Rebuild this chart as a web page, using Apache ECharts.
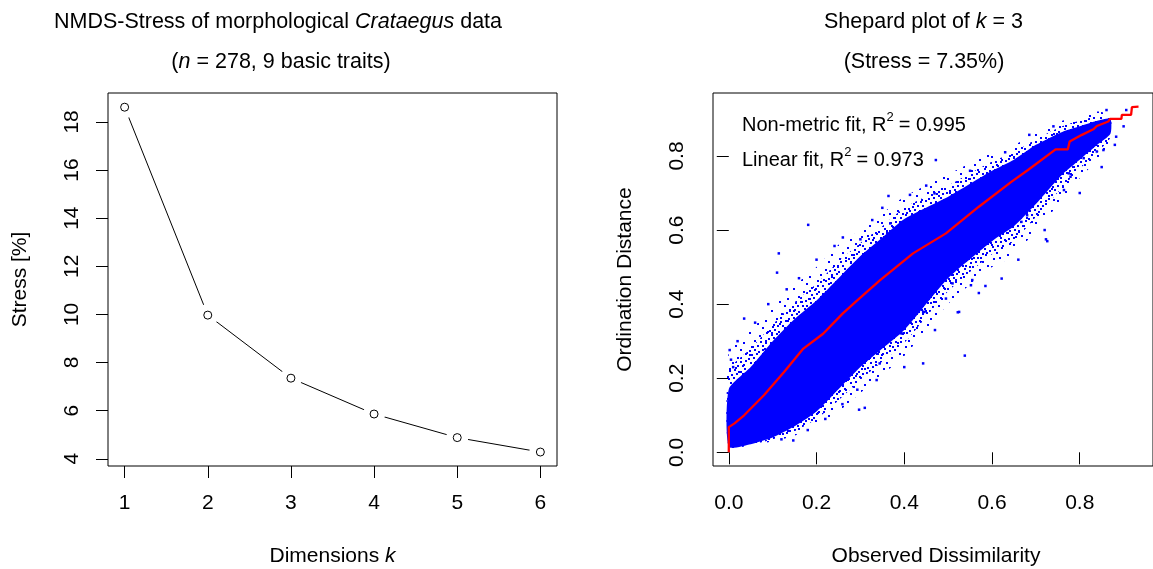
<!DOCTYPE html>
<html>
<head>
<meta charset="utf-8">
<script src="https://cdn.jsdelivr.net/npm/echarts@6/dist/echarts.min.js"></script>
<style>
html,body{margin:0;padding:0;background:#fff;}
#chart{width:1153px;height:569px;}
</style>
</head>
<body>
<div id="chart"></div>
<script>
// ---------- Left panel: NMDS stress vs dimensions ----------
const dims = [1, 2, 3, 4, 5, 6];
const stress = [18.61, 9.97, 7.35, 5.86, 4.88, 4.28];
const leftYTicks = [4, 6, 8, 10, 12, 14, 16, 18];

// ---------- Right panel: Shepard plot ----------
const shepTicks = [0, 0.2, 0.4, 0.6, 0.8];
// non-metric (isotonic) fit line
const fitX = [0, 0, 0.013, 0.035, 0.08, 0.126, 0.17, 0.215, 0.26, 0.289, 0.345, 0.42, 0.495, 0.57, 0.644, 0.682, 0.745, 0.773, 0.777, 0.805, 0.831, 0.839, 0.865, 0.869, 0.895, 0.896, 0.917, 0.919, 0.934];
const fitY = [0, 0.068, 0.078, 0.10, 0.154, 0.217, 0.28, 0.32, 0.375, 0.406, 0.465, 0.537, 0.591, 0.663, 0.73, 0.762, 0.818, 0.818, 0.839, 0.857, 0.872, 0.881, 0.893, 0.9, 0.9, 0.911, 0.911, 0.932, 0.933];
// envelopes of the point cloud: dense core, medium band, sparse fringe
const bandX    = [0,     0.05,  0.1,   0.15,  0.2,   0.25,  0.3,   0.35,  0.4,   0.5,   0.6,   0.65,  0.7,   0.76,  0.8,   0.84,  0.87];
const coreLo   = [0.015, 0.022, 0.04,  0.07,  0.11,  0.17,  0.23,  0.28,  0.33,  0.47,  0.57,  0.61,  0.67,  0.75,  0.79,  0.83,  0.86];
const coreHi   = [0.17,  0.23,  0.30,  0.36,  0.41,  0.47,  0.53,  0.58,  0.63,  0.69,  0.76,  0.79,  0.83,  0.865, 0.88,  0.895, 0.90];
const midLo    = [0.013, 0.02,  0.035, 0.057, 0.09,  0.14,  0.195, 0.245, 0.295, 0.435, 0.535, 0.57,  0.635, 0.715, 0.765, 0.81,  0.85];
const midHi    = [0.22,  0.28,  0.345, 0.405, 0.455, 0.515, 0.565, 0.61,  0.66,  0.72,  0.785, 0.81,  0.845, 0.88,  0.895, 0.907, 0.905];
const fringeLo = [0.012, 0.018, 0.03,  0.045, 0.07,  0.11,  0.16,  0.21,  0.26,  0.40,  0.50,  0.53,  0.60,  0.68,  0.74,  0.79,  0.84];
const fringeHi = [0.27,  0.33,  0.39,  0.45,  0.50,  0.56,  0.60,  0.645, 0.69,  0.75,  0.81,  0.83,  0.86,  0.895, 0.91,  0.92,  0.91];
// isolated points
const outliers = [
  [0.259,0.13],[0.31,0.12],[0.443,0.24],[0.538,0.261],[0.522,0.378],[0.392,0.322],[0.344,0.24],[0.337,0.195],
  [0.147,0.032],[0.035,0.361],[0.02,0.30],[0.51,0.456],[0.585,0.449],[0.552,0.451],[0.114,0.537],[0.181,0.614],
  [0.241,0.557],[0.11,0.485],[0.132,0.44],[0.723,0.575],[0.764,0.708],[0.685,0.857],[0.883,0.852],[0.861,0.924],
  [0.839,0.812],[0.775,0.753],[0.3,0.575],[0.327,0.627],[0.364,0.692],[0.472,0.789],[0.726,0.57],[0.854,0.816],
  [0.809,0.794],[0.779,0.744],[0.667,0.622],[0.906,0.924],[0.368,0.618],[0.413,0.695],[0.469,0.699],[0.525,0.379],
  [0.555,0.465],[0.622,0.469],[0.68,0.64],[0.443,0.379],[0.495,0.415],[0.297,0.115],[0.293,0.169],[0.394,0.321],
  [0.446,0.379],[0.002,0.276],[0.005,0.25],[0.01,0.23],[0.06,0.35],[0.09,0.40],[0.16,0.47],[0.2,0.52],
  [0.26,0.58],[0.22,0.09],[0.18,0.06],[0.12,0.035],[0.4,0.23],[0.47,0.33],[0.57,0.43],[0.66,0.52],[0.72,0.6],
  [0.8,0.7],[0.85,0.77],[0.88,0.83],[0.9,0.88],[0.74,0.88],[0.63,0.81],[0.55,0.76],[0.45,0.72],[0.35,0.66]
];

const FONT = 'Liberation Sans, Arial, sans-serif';

// speckle textures (fixed dot layouts) used to paint the sparse parts of the cloud
function makeTile(size, dots) {
  const c = document.createElement('canvas');
  c.width = c.height = size;
  const g = c.getContext('2d');
  g.fillStyle = '#0000ff';
  dots.forEach(d => g.fillRect(d[0], d[1], 2, 2));
  return c;
}
const denseTile = makeTile(20, [[0,1],[5,0],[10,2],[15,1],[2,5],[12,6],[17,5],[4,8],[9,10],[14,9],[18,11],
  [2,13],[6,12],[11,14],[16,13],[0,17],[8,18],[13,17]]);
const sparseTile = makeTile(22, [[1,2],[11,5],[6,10],[17,12],[3,16],[14,19],[19,1],[9,15]]);

const chart = echarts.init(document.getElementById('chart'), null, {renderer: 'canvas'});

function polyItem(lo, hi, fill) {
  return function (params, api) {
    const pts = [];
    for (let i = 0; i < bandX.length; i++) pts.push(api.coord([bandX[i], hi[i]]));
    for (let i = bandX.length - 1; i >= 0; i--) pts.push(api.coord([bandX[i], lo[i]]));
    return {type: 'polygon', shape: {points: pts, smooth: 0.2}, style: {fill: fill}};
  };
}

// measure text widths for superscript placement
const mctx = document.createElement('canvas').getContext('2d');
function tw(s, px) { mctx.font = px + 'px ' + FONT; return mctx.measureText(s).width; }

function fitLabel(prefix, value, x, y) {
  const w1 = tw(prefix, 20);
  const w2 = tw('2', 13);
  return [
    {type: 'text', x: x, y: y, z: 10, style: {text: prefix, font: '20px ' + FONT, fill: '#000', align: 'left', verticalAlign: 'middle'}},
    {type: 'text', x: x + w1, y: y - 8, z: 10, style: {text: '2', font: '13px ' + FONT, fill: '#000', align: 'left', verticalAlign: 'middle'}},
    {type: 'text', x: x + w1 + w2 + 5, y: y, z: 10, style: {text: '= ' + value, font: '20px ' + FONT, fill: '#000', align: 'left', verticalAlign: 'middle'}}
  ];
}

const axisCommon = {
  axisLine: {show: false},
  splitLine: {show: false},
  axisTick: {show: true, inside: false, length: 12, lineStyle: {color: '#000', width: 1}},
  axisLabel: {color: '#000', fontSize: 21, fontFamily: FONT}
};

const option = {
  backgroundColor: '#fff',
  animation: false,
  grid: [
    {left: 108, top: 93, width: 449, height: 373, show: true, borderColor: '#000', borderWidth: 1, backgroundColor: 'transparent'},
    {left: 713, top: 93, width: 447, height: 373, show: true, borderColor: '#000', borderWidth: 1, backgroundColor: 'transparent'}
  ],
  xAxis: [
    Object.assign({}, axisCommon, {
      type: 'value', gridIndex: 0, min: 0.8, max: 6.2,
      axisTick: Object.assign({}, axisCommon.axisTick, {customValues: dims}),
      axisLabel: Object.assign({}, axisCommon.axisLabel, {customValues: dims, margin: 27})
    }),
    Object.assign({}, axisCommon, {
      type: 'value', gridIndex: 1, min: -0.036, max: 0.967,
      axisTick: Object.assign({}, axisCommon.axisTick, {customValues: shepTicks}),
      axisLabel: Object.assign({}, axisCommon.axisLabel, {customValues: shepTicks, margin: 27,
        formatter: v => v.toFixed(1)})
    })
  ],
  yAxis: [
    Object.assign({}, axisCommon, {
      type: 'value', gridIndex: 0, min: 3.7, max: 19.2,
      axisTick: Object.assign({}, axisCommon.axisTick, {customValues: leftYTicks}),
      axisLabel: Object.assign({}, axisCommon.axisLabel, {customValues: leftYTicks, rotate: 90, margin: 25})
    }),
    Object.assign({}, axisCommon, {
      type: 'value', gridIndex: 1, min: -0.037, max: 0.970,
      axisTick: Object.assign({}, axisCommon.axisTick, {customValues: shepTicks}),
      axisLabel: Object.assign({}, axisCommon.axisLabel, {customValues: shepTicks, rotate: 90, margin: 25,
        formatter: v => v.toFixed(1)})
    })
  ],
  series: [
    {
      type: 'line', xAxisIndex: 0, yAxisIndex: 0, z: 2,
      data: dims.map((d, i) => [d, stress[i]]),
      showSymbol: false, symbol: 'none',
      lineStyle: {color: '#000', width: 1}
    },
    {
      type: 'scatter', xAxisIndex: 0, yAxisIndex: 0, z: 3,
      data: dims.map((d, i) => [d, stress[i]]),
      symbol: 'circle', symbolSize: 22,
      itemStyle: {color: '#fff', borderWidth: 0, opacity: 1}
    },
    {
      type: 'scatter', xAxisIndex: 0, yAxisIndex: 0, z: 4,
      data: dims.map((d, i) => [d, stress[i]]),
      symbol: 'circle', symbolSize: 8,
      itemStyle: {color: '#fff', borderColor: '#000', borderWidth: 1, opacity: 1}
    },
    {
      type: 'custom', xAxisIndex: 1, yAxisIndex: 1, z: 2, clip: true,
      data: [[0, 0]], renderItem: polyItem(fringeLo, fringeHi, {image: sparseTile, repeat: 'repeat'})
    },
    {
      type: 'custom', xAxisIndex: 1, yAxisIndex: 1, z: 3, clip: true,
      data: [[0, 0]], renderItem: polyItem(midLo, midHi, {image: denseTile, repeat: 'repeat'})
    },
    {
      type: 'custom', xAxisIndex: 1, yAxisIndex: 1, z: 4, clip: true,
      data: [[0, 0]], renderItem: polyItem(coreLo, coreHi, '#0000ff')
    },
    {
      type: 'scatter', xAxisIndex: 1, yAxisIndex: 1, z: 5,
      data: outliers, symbol: 'rect', symbolSize: 2.5,
      itemStyle: {color: '#0000ff', opacity: 1}
    },
    {
      type: 'line', xAxisIndex: 1, yAxisIndex: 1, z: 6,
      data: fitX.map((x, i) => [x, fitY[i]]),
      showSymbol: false, symbol: 'none',
      lineStyle: {color: '#ff0000', width: 2.3}
    }
  ],
  graphic: [
    {type: 'text', x: 278, y: 22, style: {text: 'NMDS-Stress of morphological {i|Crataegus} data', font: '21.5px ' + FONT, fill: '#000', align: 'center', verticalAlign: 'middle',
      rich: {i: {fontStyle: 'italic', fontSize: 21.5, fontFamily: FONT}}}},
    {type: 'text', x: 281, y: 62, style: {text: '({i|n} = 278, 9 basic traits)', font: '21.5px ' + FONT, fill: '#000', align: 'center', verticalAlign: 'middle',
      rich: {i: {fontStyle: 'italic', fontSize: 21.5, fontFamily: FONT}}}},
    {type: 'text', x: 923.5, y: 22, style: {text: 'Shepard plot of {i|k} = 3', font: '21.5px ' + FONT, fill: '#000', align: 'center', verticalAlign: 'middle',
      rich: {i: {fontStyle: 'italic', fontSize: 21.5, fontFamily: FONT}}}},
    {type: 'text', x: 924, y: 62, style: {text: '(Stress = 7.35%)', font: '21.5px ' + FONT, fill: '#000', align: 'center', verticalAlign: 'middle'}},
    {type: 'text', x: 332.5, y: 556, style: {text: 'Dimensions {i|k}', font: '21px ' + FONT, fill: '#000', align: 'center', verticalAlign: 'middle',
      rich: {i: {fontStyle: 'italic', fontSize: 21, fontFamily: FONT}}}},
    {type: 'text', x: 936, y: 556, style: {text: 'Observed Dissimilarity', font: '21px ' + FONT, fill: '#000', align: 'center', verticalAlign: 'middle'}},
    {type: 'text', x: 20, y: 279.5, rotation: Math.PI / 2, style: {text: 'Stress [%]', font: '21px ' + FONT, fill: '#000', align: 'center', verticalAlign: 'middle'}},
    {type: 'text', x: 625, y: 279.5, rotation: Math.PI / 2, style: {text: 'Ordination Distance', font: '21px ' + FONT, fill: '#000', align: 'center', verticalAlign: 'middle'}}
  ].concat(fitLabel('Non-metric fit, R', '0.995', 742, 125), fitLabel('Linear fit, R', '0.973', 742, 160))
};
chart.setOption(option);
</script>
</body>
</html>
